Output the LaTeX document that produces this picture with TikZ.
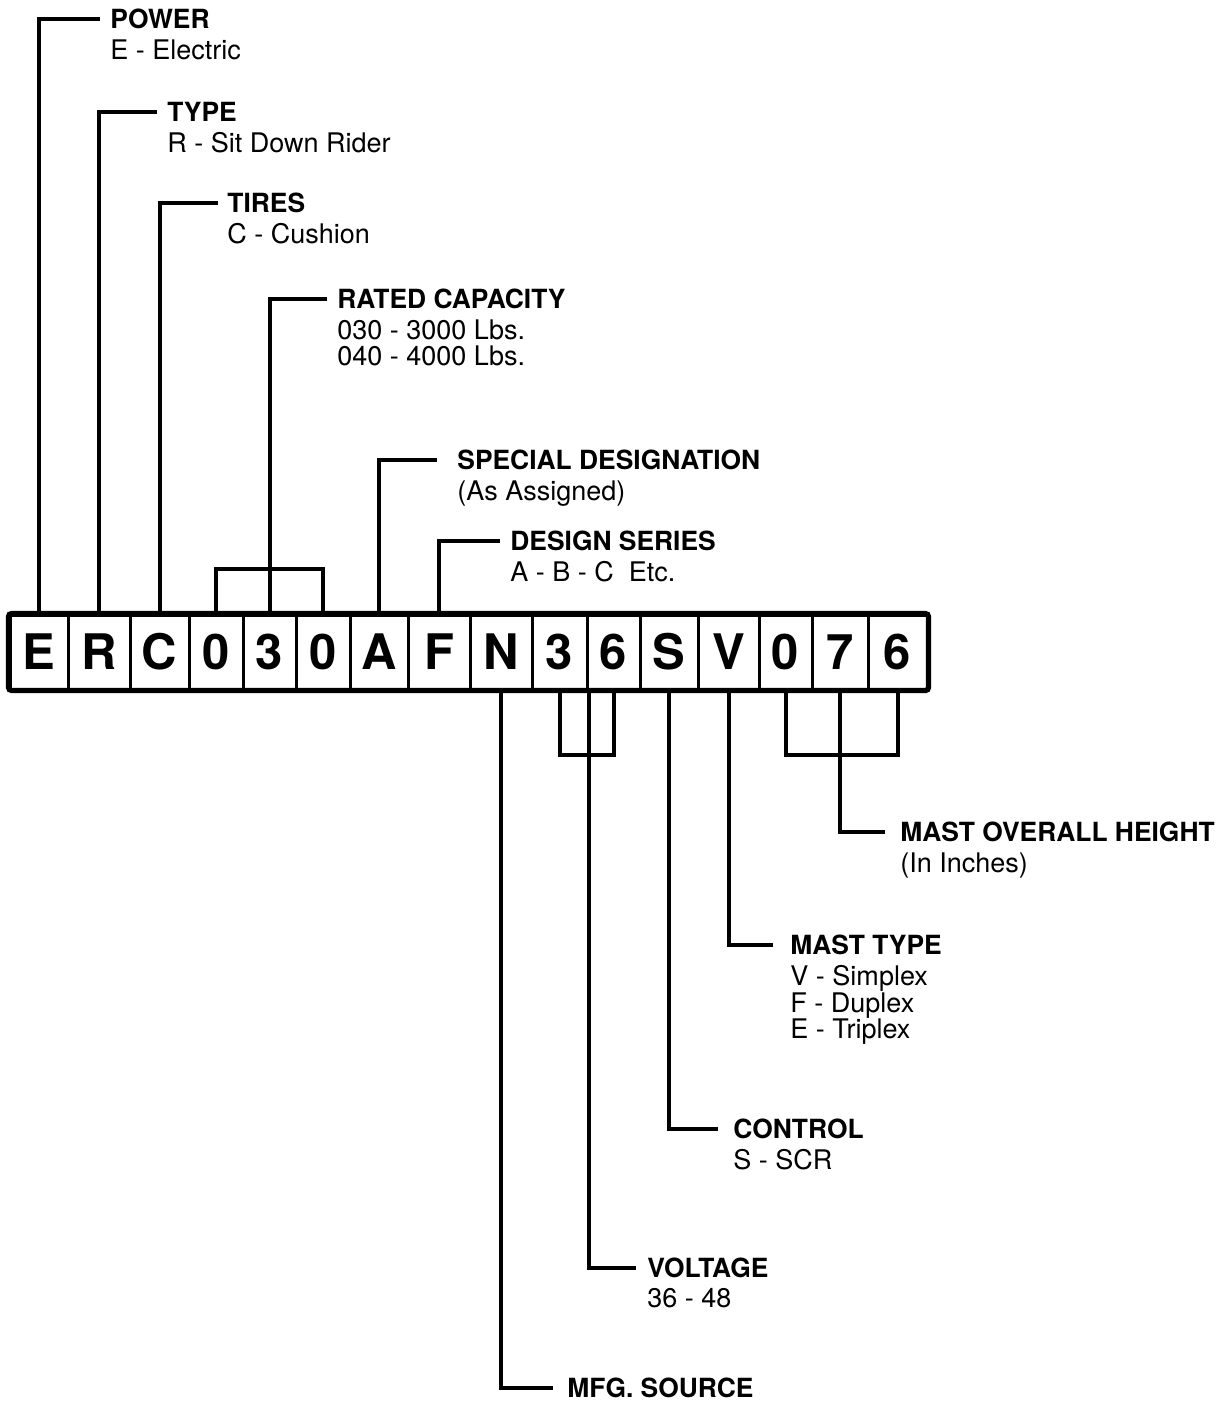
\documentclass[tikz,border=0pt]{standalone}
\usepackage{fontspec}
\setmainfont{TeX Gyre Heros}
\usepackage{tikz}
\usetikzlibrary{positioning}
\tikzset{
    cell/.style={rectangle, draw=black, line width=1.5pt, fill=white, minimum height=37pt, inner sep=0pt, font=\fontsize{24.5}{26}\selectfont\bfseries},
    frame/.style={line width=2.6pt, rounded corners=1.5pt},
    lead/.style={line width=2pt},
}

\begin{document}
\begin{tikzpicture}[
  x=0.5pt, y=-0.5pt, % pixel grid of the drawing
  head/.style={anchor=west, inner sep=0pt, font=\fontsize{13.2}{13.25}\selectfont\bfseries},
  desc/.style={anchor=north west, align=left, inner sep=0pt, font=\fontsize{13.5}{13.25}\selectfont},
  ]
\useasboundingbox (0,0) rectangle (1227,1403);

% model number cells
\foreach \ch/\xl/\xr [count=\i] in {E/10/68, R/68/130, C/130/189, 0/189/243, 3/243/296, 0/296/350, A/350/408, F/408/470, N/470/532, 3/532/587, 6/587/640, S/640/698, V/698/759, 0/759/812, 7/812/868, 6/868/927}
    \node[cell, minimum width={(\xr-\xl)*0.5pt}] (c\i) at ({(\xl+\xr)/2}, 652) {\ch};
\draw[frame] (c1.north west) rectangle (c16.south east);

% labels above
\node[head] (power) at (110,19) {POWER};
\node[desc, below=5pt of power.south west, anchor=north west] (power-d) {E - Electric};
\node[head] (type) at (167,112) {TYPE};
\node[desc, below=5pt of type.south west, anchor=north west] (type-d) {R - Sit Down Rider};
\node[head] (tires) at (227,203) {TIRES};
\node[desc, below=5pt of tires.south west, anchor=north west] (tires-d) {C - Cushion};
\node[head] (capacity) at (337,299) {RATED CAPACITY};
\node[desc, below=5pt of capacity.south west, anchor=north west] (capacity-d) {030 - 3000 Lbs.\\040 - 4000 Lbs.};
\node[head] (special) at (457,460) {SPECIAL DESIGNATION};
\node[desc, below=5pt of special.south west, anchor=north west] (special-d) {(As Assigned)};
\node[head] (design) at (510,541) {DESIGN SERIES};
\node[desc, below=5pt of design.south west, anchor=north west] (design-d) {A - B - C\ \ Etc.};

% labels below
\node[head] (height) at (900,832) {MAST OVERALL HEIGHT};
\node[desc, below=5pt of height.south west, anchor=north west] (height-d) {(In Inches)};
\node[head] (masttype) at (790,945) {MAST TYPE};
\node[desc, below=5pt of masttype.south west, anchor=north west] (masttype-d) {V - Simplex\\F - Duplex\\E - Triplex};
\node[head] (control) at (733,1129) {CONTROL};
\node[desc, below=5pt of control.south west, anchor=north west] (control-d) {S - SCR};
\node[head] (voltage) at (647,1268) {VOLTAGE};
\node[desc, below=5pt of voltage.south west, anchor=north west] (voltage-d) {36 - 48};
\node[head] (mfg) at (567,1388) {MFG. SOURCE};

% leaders
\coordinate (capbar) at (0,569);
\coordinate (voltbar) at (0,755);
\coordinate (heightbar) at (0,755);

\draw[lead] (c1.north) |- ([xshift=-5pt]power.west);
\draw[lead] (c2.north) |- ([xshift=-5pt]type.west);
\draw[lead] (c3.north) |- ([xshift=-4.5pt]tires.west);
\draw[lead] (c4.north) |- (c6.north |- capbar) -- (c6.north);
\draw[lead] (c5.north) |- ([xshift=-5pt]capacity.west);
\draw[lead] (c7.north) |- ([xshift=-10pt]special.west);
\draw[lead] (c8.north) |- ([xshift=-5pt]design.west);

\draw[lead] (c9.south) |- ([xshift=-7pt]mfg.west);
\draw[lead] (c10.south) |- (c11.south |- voltbar) -- (c11.south);
\draw[lead] (c10.south east) |- ([xshift=-5.5pt]voltage.west);
\draw[lead] (c12.south) |- ([xshift=-7.5pt]control.west);
\draw[lead] (c13.south) |- ([xshift=-8.5pt]masttype.west);
\draw[lead] (c14.south) |- (c16.south |- heightbar) -- (c16.south);
\draw[lead] (c15.south) |- ([xshift=-7.5pt]height.west);

\end{tikzpicture}
\end{document}
